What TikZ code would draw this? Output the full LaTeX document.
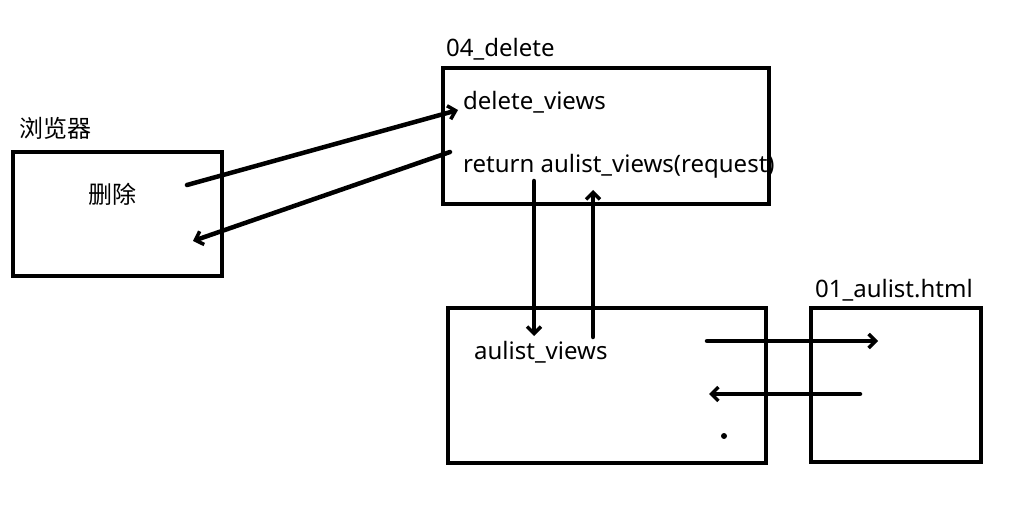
\documentclass[tikz,border=0pt]{standalone}
\usepackage{fontspec}
\setmainfont{Noto Sans}
\newfontfamily\cjk{Noto Sans CJK SC}
\usetikzlibrary{arrows.meta}
\tikzset{
  box/.style={draw, line width=4pt},
  lbl/.style={inner sep=0pt, anchor=west, font=\fontsize{24}{28}\selectfont},
  conn/.style={line width=4.5pt, line cap=round, -{Straight Barb[length=7pt, width=14pt, line width=3.5pt]}}
}
\begin{document}
\begin{tikzpicture}[x=1pt, y=-1pt]
\useasboundingbox (0,0) rectangle (1018,524);
% boxes
\draw[box] (13,152) rectangle (222,276);
\draw[box] (443,68) rectangle (769,204);
\draw[box] (448,308) rectangle (766,463);
\draw[box] (811,308) rectangle (981,462);
% labels
\node[lbl, font=\cjk\fontsize{24}{28}\selectfont] (browser) at (19,128) {浏览器};
\node[inner sep=0pt, font=\cjk\fontsize{24}{28}\selectfont] (del) at (112,194) {删除};
\node[lbl] (t04) at (446,49) {04\_delete};
\node[lbl] (dv) at (463,102) {delete\_views};
\node[lbl] (ret) at (463,166) {return aulist\_views(request)};
\node[lbl] (av) at (474,352) {aulist\_views};
\node[lbl] (t01) at (815,290) {01\_aulist.html};
% connector end points
\coordinate (a1s) at (187,185); \coordinate (a1e) at (458,110);
\coordinate (a2s) at (450,152); \coordinate (a2e) at (193,241);
\coordinate (a3s) at (534,181); \coordinate (a3e) at (534,336);
\coordinate (a4s) at (593,337); \coordinate (a4e) at (593,190);
\coordinate (a5s) at (707,341); \coordinate (a5e) at (878,341);
\coordinate (a6s) at (860,394); \coordinate (a6e) at (709,394);
\draw[conn] (a1s) -- (a1e);
\draw[conn] (a2s) -- (a2e);
\draw[conn] (a3s) -- (a3e);
\draw[conn] (a4s) -- (a4e);
\draw[conn] (a5s) -- (a5e);
\draw[conn] (a6s) -- (a6e);
\fill (724,436) circle (3pt);
\end{tikzpicture}
\end{document}
